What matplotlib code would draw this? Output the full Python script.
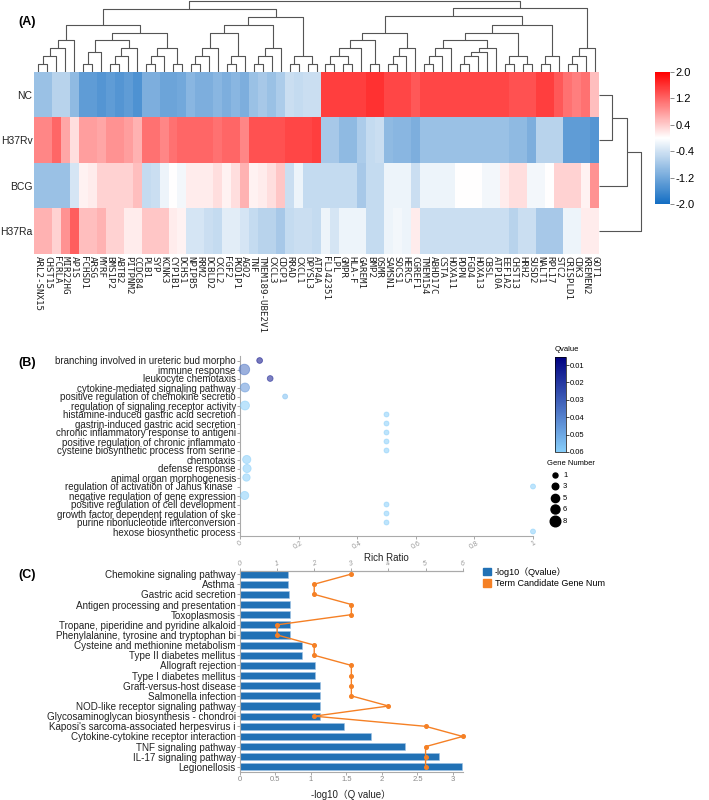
import numpy as np
import matplotlib.pyplot as plt
from matplotlib.colors import LinearSegmentedColormap, Normalize
from matplotlib.cm import ScalarMappable
from matplotlib.patches import Patch

plt.rcParams['font.family'] = ['Liberation Sans', 'Noto Sans CJK SC', 'DejaVu Sans']

# ---------------- (A) heatmap data ----------------
samples = ['NC', 'H37Rv', 'BCG', 'H37Ra']
genes = ['ARL2-SNX15', 'CHST15', 'FCRLA', 'MIR22HG', 'AP1S', 'FCHSD1', 'ARSG', 'MYRF',
         'BMS1P2', 'ABTB2', 'PITPNM2', 'CCDC84', 'PLB1', 'SYP', 'KCNK3', 'CYP1B1',
         'DCHS1', 'NPIPB5', 'RRM2', 'DCBLD2', 'CXCL2', 'FGF2', 'PKD1P1', 'AGO2', 'TNF',
         'TMEM189-UBE2V1', 'CXCL3', 'CDCP1', 'RRAD', 'CXCL1', 'DPYSL3', 'ATP4A',
         'FLJ42351', 'LPL', 'GMPR', 'HLA-F', 'GAREM1', 'BMP2', 'OSMR', 'SAMSN1', 'SOCS1',
         'HERC5', 'CGREF1', 'TMEM154', 'ABHD17C', 'CSTA', 'HOXA11', 'PDPN', 'FGD4',
         'HOXA13', 'CBSL', 'ATP10A', 'EEF1A2', 'CHST13', 'HRH2', 'SUSD2', 'NALT1',
         'RPL17', 'STC2', 'CRISPLD1', 'CDK3', 'KREMEN2', 'GOT1']

nc = [-0.85, -0.85, -0.6, -0.6, -0.95, -1.35, -1.35, -1.45, -1.35, -1.45, -1.35, -1.5,
      -1.1, -1.1, -1.25, -1.25, -1.2, -1.0, -1.1, -1.1, -1.0, -1.1, -1.0, -1.1,
      -0.85, -0.75, -0.85, -0.7, -0.45, -0.5, -0.45, -0.45,
      1.5, 1.5, 1.5, 1.5, 1.5, 1.6, 1.6, 1.45, 1.45, 1.45, 1.3,
      1.45, 1.45, 1.45, 1.45, 1.45, 1.45, 1.45, 1.45, 1.45, 1.45,
      1.35, 1.35, 1.35, 1.5, 1.5, 1.3, 1.1, 1.0, 1.1, 0.5]
h37rv = [0.95, 0.95, 1.2, 0.7, 0.25, 0.75, 0.75, 0.7, 0.85, 0.85, 0.75, 0.6,
         1.1, 1.1, 0.95, 1.1, 1.2, 1.2, 1.2, 1.2, 1.1, 1.2, 1.2, 0.95,
         1.35, 1.35, 1.35, 1.35, 1.45, 1.45, 1.45, 1.5,
         -0.75, -0.75, -0.95, -0.95, -0.7, -0.5, -0.45, -0.95, -1.0, -1.0, -1.1,
         -0.85, -0.85, -0.85, -0.85, -0.85, -0.85, -0.85, -0.85, -0.85, -0.85,
         -0.95, -0.95, -1.1, -0.6, -0.6, -0.6, -1.35, -1.35, -1.35, -1.45]
bcg = [-0.85, -0.85, -0.85, -0.85, -0.35, 0.1, 0.15, 0.35, 0.35, 0.35, 0.35, 0.5,
       -0.5, -0.45, -0.15, 0.0, -0.1, 0.15, 0.15, 0.15, 0.25, 0.1, 0.25, 0.6,
       0.1, 0.15, 0.25, 0.45, -0.45, -0.15, -0.5, -0.5,
       -0.5, -0.5, -0.5, -0.5, -0.75, -0.5, -0.5, -0.15, -0.15, -0.15, -0.45,
       -0.15, -0.15, -0.15, -0.15, 0.0, 0.0, 0.0, -0.1, -0.1, 0.15,
       0.25, 0.25, -0.1, -0.1, 0.0, 0.35, 0.35, 0.35, 0.1, 0.85]
h37ra = [0.6, 0.6, 0.35, 0.85, 1.25, 0.5, 0.5, 0.6, 0.35, 0.35, 0.15, 0.15,
         0.45, 0.45, 0.45, 0.15, 0.1, -0.35, -0.35, -0.45, -0.5, -0.25, -0.25, -0.35,
         -0.5, -0.6, -0.6, -0.75, -0.5, -0.45, -0.45, -0.5,
         -0.15, -0.35, -0.15, -0.15, -0.15, -0.5, -0.5, -0.15, -0.1, -0.15, 0.15,
         -0.45, -0.45, -0.45, -0.45, -0.45, -0.45, -0.45, -0.45, -0.45, -0.45,
         -0.6, -0.45, -0.45, -0.75, -0.75, -0.75, -0.15, -0.15, 0.15, 0.15]

# dendrograms: (left, right, merge height); leaves are column / row indices
a1 = ((((0, 1, 8), 2, 16), 3, 24), 4, 32)
a2a = (((5, 6, 8), 7, 20), (((8, 9, 8), 10, 16), 11, 24), 32)
a2b = (((12, 13, 8), 14, 16), (15, 16, 8), 24)
c1 = (((((17, 18, 8), 19, 16), 20, 24)), ((21, 22, 8), 23, 16), 39)
c2 = (((24, 25, 8), 26, 16), 27, 24)
c3 = ((28, 29, 8), (30, 31, 8), 16)
d1 = (((((32, 33, 8), (34, 35, 8), 16), 36, 24)), (37, 38, 8), 32)
d2 = (((39, 40, 8), 41, 16), 42, 24)
e1 = (((43, 44, 8), 45, 16), 46, 24)
e2 = ((((47, 48, 8), 49, 16), 50, 20), 51, 24)
e3 = ((52, 53, 8), (54, 55, 8), 16)
e4 = ((56, 57, 8), 58, 16)
f1 = (((59, 60, 8), 61, 16), 62, 24)
left_tree = ((a1, (a2a, a2b, 39), 47), ((c1, c2, 47), c3, 55), 63)
right_tree = (((d1, d2, 39), (((e1, e2, 32), e3, 39), e4, 47), 56), f1, 64)
col_tree = (left_tree, right_tree, 71)
row_tree = (((0, 1, 13), 2, 28), 3, 42)

# ---------------- (B) GO bubble data ----------------
terms_b = ['branching involved in ureteric bud morpho', 'immune response',
           'leukocyte chemotaxis', 'cytokine-mediated signaling pathway',
           'positive regulation of chemokine secretio',
           'regulation of signaling receptor activity',
           'histamine-induced gastric acid secretion',
           'gastrin-induced gastric acid secretion',
           'chronic inflammatory response to antigeni',
           'positive regulation of chronic inflammato',
           'cysteine biosynthetic process from serine', 'chemotaxis', 'defense response',
           'animal organ morphogenesis', 'regulation of activation of Janus kinase ',
           'negative regulation of gene expression',
           'positive regulation of cell development',
           'growth factor dependent regulation of ske',
           'purine ribonucleotide interconversion', 'hexose biosynthetic process']
rich_ratio = [0.067, 0.015, 0.103, 0.017, 0.154, 0.017, 0.5, 0.5, 0.5, 0.5, 0.5,
              0.023, 0.024, 0.022, 1.0, 0.016, 0.5, 0.5, 0.5, 1.0]
gene_num = [2, 8, 2, 6, 1, 6, 1, 1, 1, 1, 1, 5, 5, 4, 1, 5, 1, 1, 1, 1]
qvalue = [0.008, 0.035, 0.012, 0.045, 0.056, 0.06, 0.06, 0.06, 0.06, 0.06, 0.06,
          0.06, 0.06, 0.06, 0.06, 0.06, 0.06, 0.06, 0.06, 0.06]
legend_genes = [1, 3, 5, 6, 8]

# ---------------- (C) KEGG bar data ----------------
terms_c = ['Chemokine signaling pathway', 'Asthma', 'Gastric acid secretion',
           'Antigen processing and presentation', 'Toxoplasmosis',
           'Tropane, piperidine and pyridine alkaloid',
           'Phenylalanine, tyrosine and tryptophan bi',
           'Cysteine and methionine metabolism', 'Type II diabetes mellitus',
           'Allograft rejection', 'Type I diabetes mellitus', 'Graft-versus-host disease',
           'Salmonella infection', 'NOD-like receptor signaling pathway',
           'Glycosaminoglycan biosynthesis - chondroi',
           "Kaposi's sarcoma-associated herpesvirus i",
           'Cytokine-cytokine receptor interaction', 'TNF signaling pathway',
           'IL-17 signaling pathway', 'Legionellosis']
neg_log_q = [0.67, 0.68, 0.69, 0.70, 0.71, 0.71, 0.71, 0.88, 0.88, 1.05, 1.05, 1.12,
             1.13, 1.13, 1.13, 1.47, 1.84, 2.32, 2.80, 3.13]
cand_genes = [3, 2, 2, 3, 3, 1, 1, 2, 2, 3, 3, 3, 3, 4, 2, 5, 6, 5, 5, 5]

# ---------------- layout helpers ----------------
W, H = 709, 800
fig = plt.figure(figsize=(W / 100, H / 100), dpi=100)


def box(x0, y0, x1, y1):
    return [x0 / W, 1 - y1 / H, (x1 - x0) / W, (y1 - y0) / H]


def draw_tree(ax, node, horizontal=False):
    if isinstance(node, int):
        return node, 0.0
    left, right, h = node
    pl, hl = draw_tree(ax, left, horizontal)
    pr, hr = draw_tree(ax, right, horizontal)
    ps = [pl, pl, pr, pr]
    hs = [hl, h, h, hr]
    if horizontal:
        ax.plot(hs, ps, color='#555555', lw=0.8, solid_capstyle='butt')
    else:
        ax.plot(ps, hs, color='#555555', lw=0.8, solid_capstyle='butt')
    return (pl + pr) / 2, h


# ---------------- (A) ----------------
data = np.array([nc, h37rv, bcg, h37ra])
cmap_hm = LinearSegmentedColormap.from_list('hm', ['#146ec3', '#ffffff', '#ff0000'])
axh = fig.add_axes(box(34, 72, 599, 254))
im = axh.imshow(data, aspect='auto', cmap=cmap_hm, vmin=-2, vmax=2,
                interpolation='nearest')
axh.set_xticks(range(len(genes)))
axh.set_xticklabels(genes, rotation=270, fontfamily='DejaVu Sans Mono', fontsize=6.6,
                    color='#222222')
axh.set_yticks(range(len(samples)))
axh.set_yticklabels(samples, fontsize=7.5, color='#222222')
axh.tick_params(axis='x', length=0, pad=1.5)
axh.tick_params(axis='y', length=0, pad=1)
for s in axh.spines.values():
    s.set_visible(False)

axd = fig.add_axes(box(34, 0, 599, 72))
draw_tree(axd, col_tree)
axd.set_xlim(-0.5, len(genes) - 0.5)
axd.set_ylim(0, 72)
axd.axis('off')

axr = fig.add_axes(box(599, 72, 646, 254))
draw_tree(axr, row_tree, horizontal=True)
axr.set_ylim(3.5, -0.5)
axr.set_xlim(0, 47)
axr.axis('off')

cax = fig.add_axes(box(655, 72, 670, 204))
cb = fig.colorbar(im, cax=cax, ticks=[-2, -1.2, -0.4, 0.4, 1.2, 2])
cb.ax.set_yticklabels(['-2.0', '-1.2', '-0.4', '0.4', '1.2', '2.0'])
cb.ax.tick_params(labelsize=8, length=3, width=0.6, color='#777777', pad=1)
cb.outline.set_visible(False)

fig.text(18 / W, 1 - 22 / H, '(A)', fontsize=9, fontweight='bold', va='center')

# ---------------- (B) ----------------
axb = fig.add_axes(box(240, 356, 533, 536))
yb = np.arange(len(terms_b))
cmap_q = LinearSegmentedColormap.from_list('q', ['#000080', '#87cefa'])
norm_q = Normalize(0.0054, 0.06)


def bubble_size(n):
    return ((4.2 + 0.8 * np.asarray(n, dtype=float)) * 0.72) ** 2


bcol = cmap_q(norm_q(np.array(qvalue)))
axb.scatter(rich_ratio, yb, s=bubble_size(gene_num), c=bcol, alpha=0.55,
            edgecolors=bcol, linewidths=0.6, clip_on=False, zorder=3)
axb.set_xlim(0, 1)
axb.set_ylim(19.5, -0.5)
axb.set_yticks(yb)
axb.set_yticklabels(terms_b, fontsize=7.0, color='#222222')
axb.set_xticks([0, 0.2, 0.4, 0.6, 0.8, 1])
axb.set_xticklabels(['0', '0.2', '0.4', '0.6', '0.8', '1'], rotation=30,
                    fontsize=5, color='#999999')
axb.tick_params(axis='y', length=2, width=0.6, color='#999999', pad=1)
axb.tick_params(axis='x', length=2, width=0.6, color='#999999', pad=1)
for side in ['top', 'right']:
    axb.spines[side].set_visible(False)
for side in ['left', 'bottom']:
    axb.spines[side].set_color('#aaaaaa')
    axb.spines[side].set_linewidth(0.8)
axb.set_xlabel('Rich Ratio', fontsize=7, color='#222222', labelpad=1)

caxq = fig.add_axes(box(555, 357, 566, 452))
cbq = fig.colorbar(ScalarMappable(norm=norm_q, cmap=cmap_q), cax=caxq,
                   ticks=[0.01, 0.02, 0.03, 0.04, 0.05, 0.06])
caxq.invert_yaxis()
cbq.ax.tick_params(labelsize=5.5, length=2, width=0.5, pad=1)
cbq.outline.set_linewidth(0.5)
caxq.set_title('Qvalue', fontsize=5.5, loc='left', pad=4)

g_handles = [axb.scatter([], [], s=bubble_size(n), c='black') for n in legend_genes]
fig.legend(g_handles, [str(n) for n in legend_genes], loc='upper left',
           bbox_to_anchor=(547 / W, 1 - 460 / H), frameon=False, fontsize=5.5,
           title='Gene Number', title_fontsize=5.5, alignment='left',
           labelspacing=0.55, handletextpad=0.1, borderpad=0, borderaxespad=0)

fig.text(18 / W, 1 - 363 / H, '(B)', fontsize=9, fontweight='bold', va='center')

# ---------------- (C) ----------------
bar_color = '#2171b5'
line_color = '#f58025'
axc = fig.add_axes(box(240, 570.5, 462.7, 772))
yc = np.arange(len(terms_c))
axc.barh(yc, neg_log_q, height=0.7, color=bar_color, edgecolor='#9ec2e4',
         linewidth=0.4)
axc.set_xlim(0, 3.137)
axc.set_ylim(19.5, -0.35)
axc.set_yticks(yc)
axc.set_yticklabels(terms_c, fontsize=7.1, color='#222222')
axc.set_xticks([0, 0.5, 1, 1.5, 2, 2.5, 3])
axc.set_xticklabels(['0', '0.5', '1', '1.5', '2', '2.5', '3'], fontsize=5.5,
                    color='#888888')
axc.tick_params(axis='both', length=2, width=0.6, color='#999999', pad=1)
axc.spines['right'].set_visible(False)
for side in ['left', 'bottom', 'top']:
    axc.spines[side].set_color('#aaaaaa')
    axc.spines[side].set_linewidth(0.8)
axc.set_xlabel('-log10（Q value）', fontsize=7, color='#222222', labelpad=5)

axt = axc.twiny()
axt.plot(cand_genes, yc, color=line_color, lw=1, marker='o', ms=2.6,
         clip_on=False, zorder=4)
axt.set_xlim(0, 6)
axt.set_xticks(range(7))
axt.set_xticklabels([str(i) for i in range(7)], fontsize=5, color='#999999',
                    rotation=20, style='italic')
axt.tick_params(axis='x', length=2, width=0.6, color='#999999', pad=0)
axt.spines['right'].set_visible(False)
axt.spines['top'].set_color('#aaaaaa')
axt.spines['top'].set_linewidth(0.8)
axt.spines['bottom'].set_visible(False)
axt.spines['left'].set_visible(False)

fig.legend([Patch(color=bar_color), Patch(color=line_color)],
           ['-log10（Qvalue）', 'Term Candidate Gene Num'], loc='upper left',
           bbox_to_anchor=(483 / W, 1 - 567 / H), frameon=False, fontsize=6.5,
           handlelength=0.9, handleheight=0.9, handletextpad=0.4,
           labelspacing=0.25, borderpad=0, borderaxespad=0)

fig.text(18 / W, 1 - 575 / H, '(C)', fontsize=9, fontweight='bold', va='center')

fig.savefig('out.png', dpi=100)
